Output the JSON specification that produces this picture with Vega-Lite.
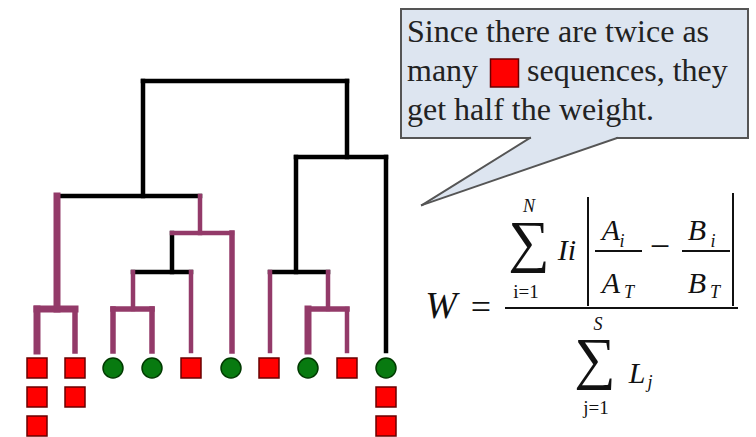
{
  "$schema": "https://vega.github.io/schema/vega-lite/v6.json",
  "width": 756,
  "height": 437,
  "autosize": "none",
  "padding": 0,
  "background": "white",
  "config": {"view": {"stroke": null}},
  "datasets": {
    "box": [{"x": 401, "y": 9, "x2": 748, "y2": 138}],
    "pointer": [
      {"x": 422, "lo": 205, "hi": 205},
      {"x": 530, "lo": 167.9, "hi": 138},
      {"x": 617, "lo": 138, "hi": 138}
    ],
    "outline": [
      {"x": 401, "y": 9, "x2": 748, "y2": 9},
      {"x": 401, "y": 9, "x2": 401, "y2": 138},
      {"x": 748, "y": 9, "x2": 748, "y2": 138},
      {"x": 401, "y": 138, "x2": 530, "y2": 138},
      {"x": 617, "y": 138, "x2": 748, "y2": 138},
      {"x": 530, "y": 138, "x2": 422, "y2": 205},
      {"x": 617, "y": 138, "x2": 422, "y2": 205}
    ],
    "treeBlack": [
      {"x": 143, "y": 81, "x2": 347, "y2": 81},
      {"x": 143, "y": 81, "x2": 143, "y2": 196},
      {"x": 347, "y": 81, "x2": 347, "y2": 157},
      {"x": 57, "y": 196, "x2": 200, "y2": 196},
      {"x": 172, "y": 233, "x2": 172, "y2": 272},
      {"x": 133, "y": 272, "x2": 191, "y2": 272},
      {"x": 296, "y": 157, "x2": 386, "y2": 157},
      {"x": 386, "y": 157, "x2": 386, "y2": 351},
      {"x": 296, "y": 157, "x2": 296, "y2": 272},
      {"x": 270, "y": 272, "x2": 328, "y2": 272}
    ],
    "treeThin": [
      {"x": 200, "y": 196, "x2": 200, "y2": 233},
      {"x": 172, "y": 233, "x2": 232, "y2": 233},
      {"x": 133, "y": 272, "x2": 133, "y2": 309},
      {"x": 191, "y": 272, "x2": 191, "y2": 351},
      {"x": 270, "y": 272, "x2": 270, "y2": 351},
      {"x": 328, "y": 272, "x2": 328, "y2": 309},
      {"x": 347, "y": 309, "x2": 347, "y2": 351}
    ],
    "treeMid": [
      {"x": 75, "y": 309, "x2": 75, "y2": 351},
      {"x": 232, "y": 233, "x2": 232, "y2": 351},
      {"x": 113, "y": 309, "x2": 152, "y2": 309},
      {"x": 113, "y": 309, "x2": 113, "y2": 351},
      {"x": 152, "y": 309, "x2": 152, "y2": 351},
      {"x": 308, "y": 309, "x2": 347, "y2": 309}
    ],
    "treeThick": [
      {"x": 57, "y": 196, "x2": 57, "y2": 309},
      {"x": 37, "y": 309, "x2": 75, "y2": 309},
      {"x": 37, "y": 309, "x2": 37, "y2": 351},
      {"x": 308, "y": 309, "x2": 308, "y2": 351}
    ],
    "leaves": [
      {"x": 37, "y": 368, "type": "red"},
      {"x": 37, "y": 397, "type": "red"},
      {"x": 37, "y": 426, "type": "red"},
      {"x": 75, "y": 368, "type": "red"},
      {"x": 75, "y": 397, "type": "red"},
      {"x": 113, "y": 368, "type": "green"},
      {"x": 152, "y": 368, "type": "green"},
      {"x": 191, "y": 368, "type": "red"},
      {"x": 231, "y": 368, "type": "green"},
      {"x": 269, "y": 368, "type": "red"},
      {"x": 308, "y": 368, "type": "green"},
      {"x": 347, "y": 368, "type": "red"},
      {"x": 386, "y": 368, "type": "green"},
      {"x": 386, "y": 397, "type": "red"},
      {"x": 386, "y": 426, "type": "red"}
    ],
    "keysq": [{"x": 504.5, "y": 73, "type": "red"}],
    "boxtext": [
      {"x": 407, "y": 42, "t": "Since there are twice as"},
      {"x": 407, "y": 81, "t": "many"},
      {"x": 527, "y": 81, "t": "sequences, they"},
      {"x": 407, "y": 120, "t": "get half the weight."}
    ],
    "mathrules": [
      {"x": 505, "y": 308, "x2": 738, "y2": 308},
      {"x": 588, "y": 197, "x2": 588, "y2": 306},
      {"x": 733, "y": 193, "x2": 733, "y2": 306},
      {"x": 595, "y": 251, "x2": 642, "y2": 251},
      {"x": 682, "y": 251, "x2": 730, "y2": 251}
    ],
    "W": [{"x": 441, "y": 318, "t": "W"}],
    "eq": [{"x": 481, "y": 319, "t": "="}, {"x": 660, "y": 257.5, "t": "−"}],
    "sigma": [{"x": 529, "y": 261, "t": "∑"}, {"x": 595, "y": 378, "t": "∑"}],
    "bigital": [
      {"x": 567, "y": 260, "t": "Ii"},
      {"x": 611, "y": 240, "t": "A"},
      {"x": 611, "y": 293, "t": "A"},
      {"x": 697, "y": 240, "t": "B"},
      {"x": 697, "y": 293, "t": "B"},
      {"x": 637, "y": 383, "t": "L"}
    ],
    "smallital": [
      {"x": 529, "y": 212, "t": "N"},
      {"x": 598, "y": 330, "t": "S"},
      {"x": 622, "y": 247, "t": "i"},
      {"x": 629, "y": 298, "t": "T"},
      {"x": 713, "y": 247, "t": "i"},
      {"x": 715, "y": 298, "t": "T"},
      {"x": 650, "y": 388, "t": "j"}
    ],
    "smallroman": [
      {"x": 526, "y": 298, "t": "i=1"},
      {"x": 596, "y": 414, "t": "j=1"}
    ]
  },
  "encoding": {
    "x": {"field": "x", "type": "quantitative", "scale": {"domain": [0, 756], "nice": false, "zero": false}, "axis": null},
    "y": {"field": "y", "type": "quantitative", "scale": {"domain": [0, 437], "nice": false, "zero": false, "reverse": true}, "axis": null}
  },
  "layer": [
    {
      "data": {"name": "box"},
      "mark": {"type": "rect", "fill": "#dde5f0"},
      "encoding": {"x2": {"field": "x2"}, "y2": {"field": "y2"}}
    },
    {
      "data": {"name": "pointer"},
      "mark": {"type": "area", "orient": "vertical", "fill": "#dde5f0", "opacity": 1},
      "encoding": {
        "y": {"field": "lo", "type": "quantitative"},
        "y2": {"field": "hi"}
      }
    },
    {
      "data": {"name": "outline"},
      "mark": {"type": "rule", "color": "#555555", "strokeWidth": 2, "strokeCap": "square"},
      "encoding": {"x2": {"field": "x2"}, "y2": {"field": "y2"}}
    },
    {
      "data": {"name": "treeBlack"},
      "mark": {"type": "rule", "strokeCap": "square", "color": "#000000", "strokeWidth": 4.5},
      "encoding": {"x2": {"field": "x2"}, "y2": {"field": "y2"}}
    },
    {
      "data": {"name": "treeThin"},
      "mark": {"type": "rule", "strokeCap": "square", "color": "#933a69", "strokeWidth": 4.5},
      "encoding": {"x2": {"field": "x2"}, "y2": {"field": "y2"}}
    },
    {
      "data": {"name": "treeMid"},
      "mark": {"type": "rule", "strokeCap": "square", "color": "#933a69", "strokeWidth": 5.5},
      "encoding": {"x2": {"field": "x2"}, "y2": {"field": "y2"}}
    },
    {
      "data": {"name": "treeThick"},
      "mark": {"type": "rule", "strokeCap": "square", "color": "#933a69", "strokeWidth": 7},
      "encoding": {"x2": {"field": "x2"}, "y2": {"field": "y2"}}
    },
    {
      "data": {"name": "leaves"},
      "mark": {"type": "point", "filled": true, "size": 400, "strokeWidth": 1.5, "opacity": 1},
      "encoding": {
        "shape": {"field": "type", "type": "nominal", "scale": {"domain": ["red", "green"], "range": ["square", "circle"]}, "legend": null},
        "fill": {"field": "type", "type": "nominal", "scale": {"domain": ["red", "green"], "range": ["#ff0000", "#087a10"]}, "legend": null},
        "stroke": {"field": "type", "type": "nominal", "scale": {"domain": ["red", "green"], "range": ["#6a0000", "#003a00"]}, "legend": null}
      }
    },
    {
      "data": {"name": "keysq"},
      "mark": {"type": "point", "filled": true, "shape": "square", "size": 784, "strokeWidth": 1.5, "opacity": 1, "fill": "#ff0000", "stroke": "#6a0000"}
    },
    {
      "data": {"name": "boxtext"},
      "mark": {"type": "text", "font": "Liberation Serif", "fontSize": 32, "align": "left", "baseline": "alphabetic", "color": "#222222"},
      "encoding": {"text": {"field": "t"}}
    },
    {
      "data": {"name": "mathrules"},
      "mark": {"type": "rule", "color": "#111111", "strokeWidth": 2},
      "encoding": {"x2": {"field": "x2"}, "y2": {"field": "y2"}}
    },
    {
      "data": {"name": "W"},
      "mark": {"type": "text", "font": "Liberation Serif", "fontStyle": "italic", "fontSize": 38, "align": "center", "baseline": "alphabetic", "color": "#111111"},
      "encoding": {"text": {"field": "t"}}
    },
    {
      "data": {"name": "eq"},
      "mark": {"type": "text", "font": "Liberation Serif", "fontSize": 36, "align": "center", "baseline": "alphabetic", "color": "#111111"},
      "encoding": {"text": {"field": "t"}}
    },
    {
      "data": {"name": "sigma"},
      "mark": {"type": "text", "font": "Liberation Serif", "fontSize": 58, "align": "center", "baseline": "alphabetic", "color": "#111111"},
      "encoding": {"text": {"field": "t"}}
    },
    {
      "data": {"name": "bigital"},
      "mark": {"type": "text", "font": "Liberation Serif", "fontStyle": "italic", "fontSize": 30, "align": "center", "baseline": "alphabetic", "color": "#111111"},
      "encoding": {"text": {"field": "t"}}
    },
    {
      "data": {"name": "smallital"},
      "mark": {"type": "text", "font": "Liberation Serif", "fontStyle": "italic", "fontSize": 18, "align": "center", "baseline": "alphabetic", "color": "#111111"},
      "encoding": {"text": {"field": "t"}}
    },
    {
      "data": {"name": "smallroman"},
      "mark": {"type": "text", "font": "Liberation Serif", "fontSize": 19, "align": "center", "baseline": "alphabetic", "color": "#111111"},
      "encoding": {"text": {"field": "t"}}
    }
  ]
}
